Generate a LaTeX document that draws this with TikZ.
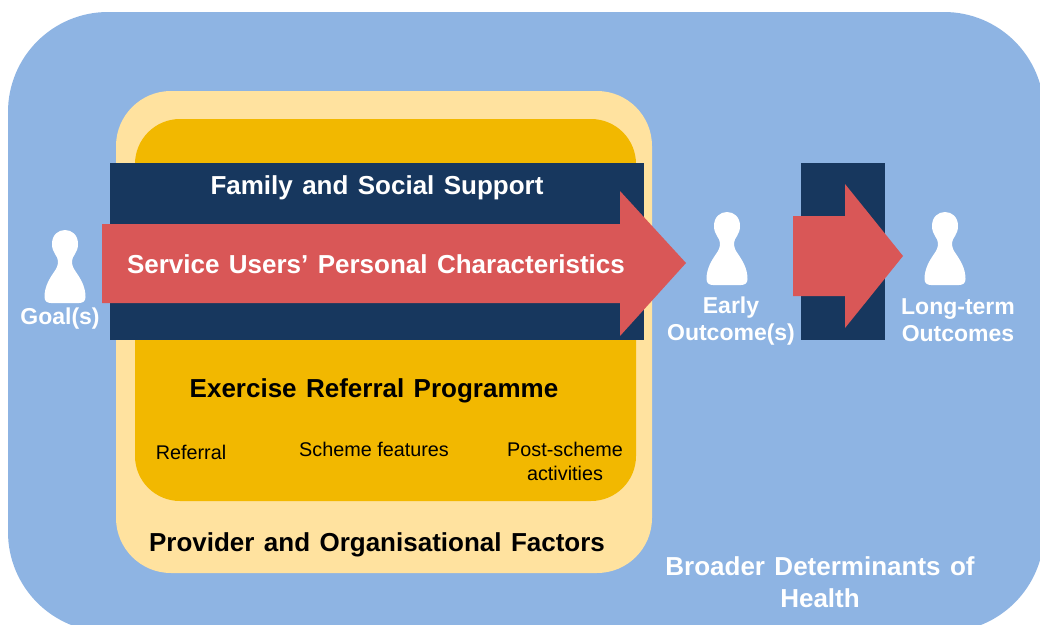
\documentclass[tikz,border=0pt]{standalone}
\usepackage{fontspec}
\setmainfont{Liberation Sans}
\newfontfamily\widefont[WordSpace=1.3]{Liberation Sans}
\definecolor{bluebg}{HTML}{8EB4E3}
\definecolor{cream}{HTML}{FFE29F}
\definecolor{gold}{HTML}{F2B800}
\definecolor{navy}{HTML}{17375E}
\definecolor{redar}{HTML}{D95757}
\tikzset{x=1pt,y=-1pt,
 wlab/.style={text=white,font=\widefont\bfseries\fontsize{26}{32}\selectfont,align=center,inner sep=0pt},
 wsm/.style={text=white,font=\bfseries\fontsize{23}{27.5}\selectfont,align=center,inner sep=0pt},
 blab/.style={text=black,font=\widefont\bfseries\fontsize{26}{32}\selectfont,align=center,inner sep=0pt},
 slab/.style={text=black,font=\fontsize{19.8}{24}\selectfont,align=center,inner sep=0pt},
 pawn/.style={fill=white,draw=none}}
\newcommand{\pawnat}[2]{%
 \fill[pawn] (#1-20.5,#2+67) .. controls (#1-20.5,#2+56) and (#1-15,#2+48) .. (#1-11,#2+42)
 .. controls (#1-8,#2+38) and (#1-7,#2+35) .. (#1-7,#2+31)
 .. controls (#1-7,#2+26) and (#1-13,#2+23) .. (#1-13,#2+14)
 .. controls (#1-13,#2+5) and (#1-7,#2) .. (#1,#2)
 .. controls (#1+7,#2) and (#1+13,#2+5) .. (#1+13,#2+14)
 .. controls (#1+13,#2+23) and (#1+7,#2+26) .. (#1+7,#2+31)
 .. controls (#1+7,#2+35) and (#1+8,#2+38) .. (#1+11,#2+42)
 .. controls (#1+15,#2+48) and (#1+20.5,#2+56) .. (#1+20.5,#2+67)
 .. controls (#1+20.5,#2+71) and (#1+18,#2+73) .. (#1+14,#2+73)
 -- (#1-14,#2+73) .. controls (#1-18,#2+73) and (#1-20.5,#2+71) .. (#1-20.5,#2+67) -- cycle;}
\begin{document}
\begin{tikzpicture}
\useasboundingbox (0,0) rectangle (1040,624);
\fill[white] (0,0) rectangle (1040,624);
\begin{scope}
\clip (0,0) rectangle (1040,624);
\fill[bluebg,rounded corners=100] (8,12) rectangle (1044,632);
\end{scope}
\fill[cream,rounded corners=55] (116,91) rectangle (652,573);
\fill[gold,rounded corners=45] (135,119) rectangle (636,501);
\fill[navy] (110,163) rectangle (644,340);
\fill[navy] (801,163) rectangle (885,340);
\fill[redar] (102,224) -- (620,224) -- (620,191) -- (686,263) -- (620,336) -- (620,303) -- (102,303) -- cycle;
\fill[redar] (793,216) -- (845,216) -- (845,184) -- (903,256) -- (845,328) -- (845,296) -- (793,296) -- cycle;
\pawnat{65}{230}
\pawnat{727}{212}
\pawnat{945}{212}
\node[wlab] (fam) at (377,188) {Family and Social Support};
\node[wlab] (su) at (376,264) {Service Users’ Personal Characteristics};
\node[wsm] (goal) at (60,319) {Goal(s)};
\node[wsm] (early) at (731,321) {Early\\Outcome(s)};
\node[wsm] (long) at (958,320) {Long-term\\Outcomes};
\node[blab] (erp) at (374,391) {Exercise Referral Programme};
\node[slab] (ref) at (191,452) {Referral};
\node[slab] (sch) at (374,449) {Scheme features};
\node[slab] (post) at (565,461) {Post-scheme\\activities};
\node[blab] (prov) at (377,545) {Provider and Organisational Factors};
\node[wlab] (broad) at (820,582) {Broader Determinants of\\Health};
\end{tikzpicture}
\end{document}
